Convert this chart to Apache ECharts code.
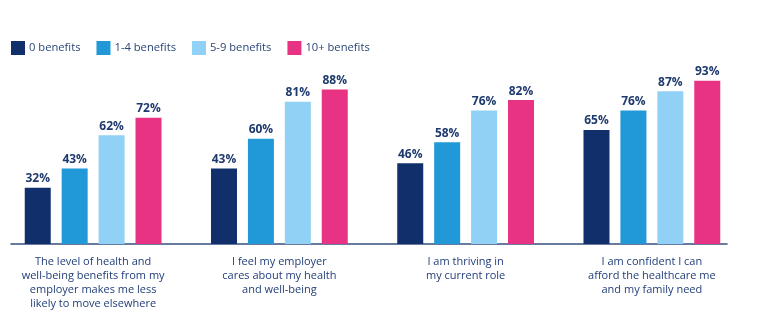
<!DOCTYPE html>
<html><head><meta charset="utf-8">
<script src="https://cdn.jsdelivr.net/npm/echarts@6/dist/echarts.min.js"></script>
<style>html,body{margin:0;padding:0;background:#fff}#c{width:768px;height:323px}</style>
</head><body><div id="c"></div>
<script>
const categories = [
  "The level of health and\nwell-being benefits from my\nemployer makes me less\nlikely to move elsewhere",
  "I feel my employer\ncares about my health\nand well-being",
  "I am thriving in\nmy current role",
  "I am confident I can\nafford the healthcare me\nand my family need"
];
const seriesNames = ["0 benefits", "1-4 benefits", "5-9 benefits", "10+ benefits"];
const zeroBenefits = [32, 43, 46, 65];
const oneToFour = [43, 60, 58, 76];
const fiveToNine = [62, 81, 76, 87];
const tenPlus = [72, 88, 82, 93];
const colors = ["#11306b", "#2199d8", "#90d1f5", "#e83283"];

const values = [zeroBenefits, oneToFour, fiveToNine, tenPlus];
const font = "'Open Sans', 'Noto Sans', sans-serif";
const chart = echarts.init(document.getElementById('c'));
chart.setOption({
  animation: false,
  textStyle: { fontFamily: font },
  legend: {
    left: 11, top: 41, padding: 0, itemWidth: 14, itemHeight: 14, itemGap: 16,
    icon: 'rect',
    textStyle: { fontFamily: font, fontSize: 11.2, color: '#2a4678', padding: [0, 0, 0, -1] },
    data: seriesNames
  },
  grid: [
    { left: -2, right: 23, top: 68.5, bottom: 79 },
    { left: 11, right: 41, top: 68.5, bottom: 79 }
  ],
  xAxis: [
    { type: 'category', gridIndex: 0, data: categories,
      axisLine: { show: false }, axisTick: { show: false },
      axisLabel: { interval: 0, margin: 11, fontFamily: font, fontSize: 11, lineHeight: 14, color: '#23407a' } },
    { type: 'value', gridIndex: 1, min: 0, max: 1,
      axisLine: { show: true, lineStyle: { color: '#34507e', width: 1.5 } },
      axisTick: { show: false }, axisLabel: { show: false }, splitLine: { show: false } }
  ],
  yAxis: [
    { type: 'value', gridIndex: 0, min: 0, max: 100, show: false },
    { type: 'value', gridIndex: 1, min: 0, max: 100, show: false }
  ],
  series: seriesNames.map((n, i) => ({
    name: n, type: 'bar', xAxisIndex: 0, yAxisIndex: 0,
    data: values[i], barWidth: 26, barGap: '42%',
    itemStyle: { color: colors[i] },
    label: { show: true, position: 'top', distance: 3, formatter: '{c}%',
      fontFamily: font, fontSize: 12, fontWeight: 'bold', color: '#1e3a6e' }
  }))
});
</script></body></html>
